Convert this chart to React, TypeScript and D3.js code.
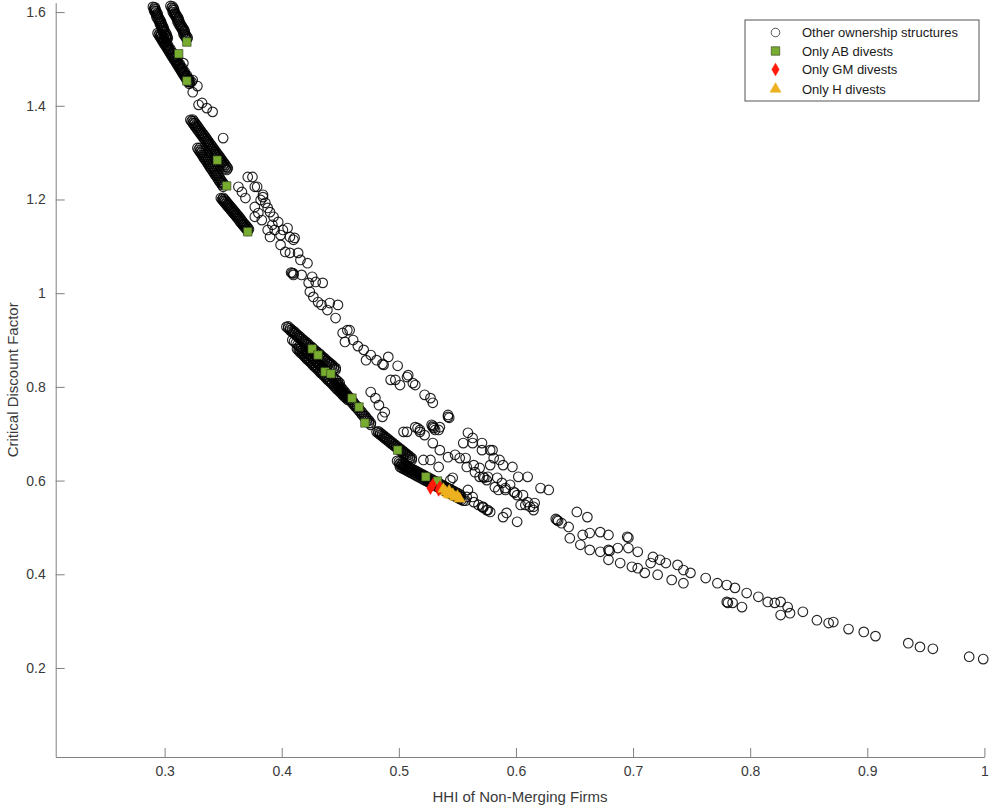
import { useEffect, useRef } from "react";
import * as d3 from "d3";

// [HHI of non-merging firms, critical discount factor]
const topStreaks: [number, number][] = [
  [0.290, 1.611], [0.291, 1.607], [0.291, 1.603], [0.292, 1.599], [0.293, 1.595], [0.293, 1.590],
  [0.294, 1.586], [0.295, 1.582], [0.296, 1.578], [0.296, 1.574], [0.297, 1.570], [0.298, 1.566],
  [0.298, 1.562], [0.299, 1.558], [0.300, 1.553], [0.301, 1.549], [0.301, 1.545], [0.302, 1.541],
  [0.2917, 1.610], [0.2922, 1.606], [0.2927, 1.602], [0.2937, 1.598], [0.2942, 1.594], [0.2947, 1.589],
  [0.2957, 1.585], [0.2967, 1.581], [0.2972, 1.577], [0.2977, 1.573], [0.2987, 1.569], [0.2992, 1.565],
  [0.2997, 1.561], [0.3007, 1.557], [0.3017, 1.552], [0.3022, 1.548], [0.3027, 1.544],
  [0.305, 1.613], [0.306, 1.609], [0.307, 1.605], [0.307, 1.600], [0.308, 1.596], [0.309, 1.592],
  [0.310, 1.588], [0.311, 1.584], [0.311, 1.580], [0.312, 1.575], [0.313, 1.571], [0.314, 1.567],
  [0.315, 1.563], [0.316, 1.559], [0.316, 1.554], [0.317, 1.550], [0.318, 1.546], [0.319, 1.542],
  [0.3067, 1.612], [0.3077, 1.608], [0.3082, 1.604], [0.3087, 1.599], [0.3097, 1.595], [0.3107, 1.591],
  [0.3117, 1.587], [0.3122, 1.583], [0.3127, 1.579], [0.3137, 1.574], [0.3147, 1.570], [0.3157, 1.566],
  [0.3167, 1.562], [0.3172, 1.558], [0.3177, 1.553], [0.3187, 1.549], [0.3197, 1.545],
  [0.294, 1.555], [0.295, 1.551], [0.296, 1.547], [0.297, 1.543], [0.298, 1.539], [0.299, 1.535],
  [0.300, 1.531], [0.301, 1.527], [0.302, 1.523], [0.303, 1.519], [0.304, 1.515], [0.305, 1.511],
  [0.306, 1.507], [0.307, 1.503], [0.308, 1.499], [0.309, 1.495], [0.310, 1.491], [0.311, 1.487],
  [0.312, 1.483], [0.313, 1.479], [0.314, 1.475], [0.315, 1.471], [0.316, 1.467], [0.317, 1.463],
  [0.318, 1.459], [0.319, 1.455], [0.320, 1.451], [0.321, 1.447],
  [0.2957, 1.554], [0.2967, 1.550], [0.2977, 1.546], [0.2987, 1.542], [0.2997, 1.538], [0.3007, 1.534],
  [0.3017, 1.530], [0.3027, 1.526], [0.3037, 1.522], [0.3047, 1.518], [0.3057, 1.514], [0.3067, 1.510],
  [0.3077, 1.506], [0.3087, 1.502], [0.3097, 1.498], [0.3107, 1.494], [0.3117, 1.490], [0.3127, 1.486],
  [0.3137, 1.482], [0.3147, 1.478], [0.3157, 1.474], [0.3167, 1.470], [0.3177, 1.466], [0.3187, 1.462],
  [0.3197, 1.458], [0.3207, 1.454], [0.3217, 1.450],
  [0.297, 1.553], [0.299, 1.545], [0.301, 1.537], [0.303, 1.529], [0.305, 1.521], [0.307, 1.513],
  [0.309, 1.505], [0.311, 1.497], [0.313, 1.489], [0.315, 1.481], [0.317, 1.473], [0.319, 1.465],
  [0.321, 1.457], [0.323, 1.451],
  [0.316, 1.491], [0.324, 1.455], [0.328, 1.442], [0.324, 1.429], [0.332, 1.406], [0.336, 1.395],
  [0.341, 1.387], [0.329, 1.402],
];

const secondStreaks: [number, number][] = [
  [0.322, 1.370], [0.323, 1.367], [0.324, 1.363], [0.325, 1.360], [0.326, 1.356], [0.327, 1.353],
  [0.328, 1.349], [0.329, 1.346], [0.330, 1.342], [0.331, 1.339], [0.332, 1.336], [0.333, 1.332],
  [0.334, 1.329], [0.335, 1.325], [0.336, 1.322], [0.337, 1.318], [0.338, 1.315], [0.339, 1.311],
  [0.340, 1.308], [0.341, 1.304], [0.342, 1.301], [0.343, 1.297], [0.344, 1.294], [0.345, 1.291],
  [0.346, 1.287], [0.347, 1.284], [0.348, 1.280], [0.349, 1.277], [0.350, 1.273], [0.351, 1.270],
  [0.352, 1.266], [0.353, 1.263],
  [0.324, 1.3705], [0.325, 1.367], [0.326, 1.3635], [0.327, 1.360], [0.328, 1.3565], [0.329, 1.353],
  [0.330, 1.3495], [0.331, 1.346], [0.332, 1.3425], [0.333, 1.3395], [0.334, 1.336], [0.335, 1.3325],
  [0.336, 1.329], [0.337, 1.3255], [0.338, 1.322], [0.339, 1.3185], [0.340, 1.315], [0.341, 1.3115],
  [0.342, 1.308], [0.343, 1.3045], [0.344, 1.301], [0.345, 1.2975], [0.346, 1.2945], [0.347, 1.291],
  [0.348, 1.2875], [0.349, 1.284], [0.350, 1.2805], [0.351, 1.277], [0.352, 1.2735], [0.353, 1.270],
  [0.354, 1.2665],
  [0.328, 1.310], [0.329, 1.306], [0.330, 1.302], [0.331, 1.299], [0.332, 1.295], [0.333, 1.291],
  [0.334, 1.287], [0.335, 1.284], [0.336, 1.280], [0.337, 1.276], [0.338, 1.272], [0.339, 1.268],
  [0.340, 1.265], [0.341, 1.261], [0.342, 1.257], [0.343, 1.253], [0.344, 1.250], [0.345, 1.246],
  [0.346, 1.242], [0.347, 1.238], [0.348, 1.235], [0.349, 1.231], [0.350, 1.227],
  [0.330, 1.310], [0.331, 1.306], [0.332, 1.3025], [0.333, 1.299], [0.334, 1.295], [0.335, 1.291],
  [0.336, 1.2875], [0.337, 1.284], [0.338, 1.280], [0.339, 1.276], [0.340, 1.272], [0.341, 1.2685],
  [0.342, 1.265], [0.343, 1.261], [0.344, 1.257], [0.345, 1.2535], [0.346, 1.250], [0.347, 1.246],
  [0.348, 1.242], [0.349, 1.2385], [0.350, 1.235], [0.351, 1.231],
  [0.348, 1.203], [0.349, 1.200], [0.350, 1.197], [0.351, 1.194], [0.352, 1.191], [0.353, 1.188],
  [0.354, 1.185], [0.355, 1.182], [0.356, 1.179], [0.357, 1.176], [0.358, 1.173], [0.359, 1.170],
  [0.360, 1.167], [0.361, 1.164], [0.362, 1.161], [0.363, 1.158], [0.364, 1.154], [0.365, 1.151],
  [0.366, 1.148], [0.367, 1.145], [0.368, 1.142], [0.369, 1.139], [0.370, 1.136], [0.371, 1.133],
  [0.350, 1.2035], [0.351, 1.2005], [0.352, 1.1975], [0.353, 1.1945], [0.354, 1.1915], [0.355, 1.1885],
  [0.356, 1.1855], [0.357, 1.1825], [0.358, 1.1795], [0.359, 1.1765], [0.360, 1.1735], [0.361, 1.1705],
  [0.362, 1.1675], [0.363, 1.1645], [0.364, 1.1615], [0.365, 1.158], [0.366, 1.1545], [0.367, 1.1515],
  [0.368, 1.1485], [0.369, 1.1455], [0.370, 1.1425], [0.371, 1.1395], [0.372, 1.1365],
];

const secondCloud: [number, number][] = [
  [0.350, 1.331], [0.371, 1.248], [0.379, 1.227], [0.363, 1.227], [0.366, 1.216], [0.369, 1.203],
  [0.384, 1.210], [0.386, 1.193], [0.377, 1.184], [0.380, 1.171], [0.390, 1.173], [0.383, 1.156],
  [0.393, 1.163], [0.397, 1.152], [0.392, 1.146], [0.405, 1.139], [0.390, 1.120], [0.399, 1.124],
  [0.407, 1.120], [0.411, 1.118], [0.375, 1.248], [0.377, 1.227], [0.384, 1.205], [0.382, 1.199],
  [0.388, 1.182], [0.377, 1.163], [0.388, 1.135], [0.394, 1.135], [0.401, 1.135], [0.410, 1.114],
  [0.399, 1.103], [0.403, 1.088], [0.407, 1.086], [0.414, 1.086], [0.416, 1.071], [0.422, 1.064],
  [0.408, 1.044], [0.409, 1.043], [0.410, 1.042], [0.410, 1.039], [0.417, 1.039], [0.426, 1.035],
  [0.423, 1.022], [0.429, 1.024], [0.435, 1.022], [0.424, 1.003], [0.427, 0.992], [0.431, 0.981],
  [0.434, 0.975], [0.441, 0.979], [0.448, 0.975], [0.439, 0.964], [0.446, 0.947], [0.456, 0.921],
];

const thirdStreaks: [number, number][] = [
  [0.404, 0.928], [0.4055, 0.925], [0.407, 0.921], [0.4085, 0.918], [0.410, 0.915], [0.4115, 0.912],
  [0.413, 0.908], [0.4145, 0.905], [0.416, 0.902], [0.4175, 0.898], [0.419, 0.895], [0.4205, 0.892],
  [0.422, 0.889], [0.4235, 0.885], [0.425, 0.882], [0.4265, 0.879], [0.428, 0.875], [0.4295, 0.872],
  [0.431, 0.869], [0.4325, 0.866], [0.434, 0.862], [0.4355, 0.859], [0.437, 0.856], [0.4385, 0.852],
  [0.440, 0.849], [0.4415, 0.846], [0.443, 0.843], [0.4445, 0.839], [0.446, 0.836],
  [0.4056, 0.929], [0.4071, 0.925], [0.4086, 0.922], [0.4101, 0.919], [0.4116, 0.916], [0.4131, 0.912],
  [0.4146, 0.909], [0.4161, 0.906], [0.4176, 0.902], [0.4191, 0.899], [0.4206, 0.896], [0.4221, 0.893],
  [0.4236, 0.889], [0.4251, 0.886], [0.4266, 0.883], [0.4281, 0.879], [0.4296, 0.876], [0.4311, 0.873],
  [0.4326, 0.870], [0.4341, 0.866], [0.4356, 0.863], [0.4371, 0.860], [0.4386, 0.856], [0.4401, 0.853],
  [0.4416, 0.850], [0.4431, 0.847], [0.4446, 0.843], [0.4461, 0.840],
  [0.409, 0.900], [0.4105, 0.897], [0.412, 0.893], [0.4135, 0.890], [0.415, 0.886], [0.4165, 0.883],
  [0.418, 0.880], [0.4195, 0.876], [0.421, 0.873], [0.4225, 0.869], [0.424, 0.866], [0.4255, 0.863],
  [0.427, 0.859], [0.4285, 0.856], [0.430, 0.852], [0.4315, 0.849], [0.433, 0.846], [0.4345, 0.842],
  [0.436, 0.839], [0.4375, 0.835], [0.439, 0.832], [0.4405, 0.829], [0.442, 0.825], [0.4435, 0.822],
  [0.445, 0.818], [0.4465, 0.815], [0.448, 0.812], [0.4495, 0.808],
  [0.413, 0.881], [0.4145, 0.877], [0.416, 0.873], [0.4175, 0.870], [0.419, 0.866], [0.4205, 0.862],
  [0.422, 0.858], [0.4235, 0.855], [0.425, 0.851], [0.4265, 0.847], [0.428, 0.843], [0.4295, 0.840],
  [0.431, 0.836], [0.4325, 0.832], [0.434, 0.828], [0.4355, 0.825], [0.437, 0.821], [0.4385, 0.817],
  [0.440, 0.813], [0.4415, 0.810], [0.443, 0.806], [0.4445, 0.802], [0.446, 0.798], [0.4475, 0.794],
  [0.449, 0.791], [0.4505, 0.787], [0.452, 0.783], [0.4535, 0.779], [0.455, 0.776], [0.4565, 0.772],
  [0.4146, 0.881], [0.4161, 0.877], [0.4176, 0.874], [0.4191, 0.870], [0.4206, 0.866], [0.4221, 0.862],
  [0.4236, 0.859], [0.4251, 0.855], [0.4266, 0.851], [0.4281, 0.847], [0.4296, 0.844], [0.4311, 0.840],
  [0.4326, 0.836], [0.4341, 0.832], [0.4356, 0.829], [0.4371, 0.825], [0.4386, 0.821], [0.4401, 0.817],
  [0.4416, 0.814], [0.4431, 0.810], [0.4446, 0.806], [0.4461, 0.802], [0.4476, 0.798], [0.4491, 0.795],
  [0.4506, 0.791], [0.4521, 0.787], [0.4536, 0.783], [0.4551, 0.780], [0.4566, 0.776],
  [0.446, 0.808], [0.4475, 0.804], [0.449, 0.799], [0.4505, 0.795], [0.452, 0.790], [0.4535, 0.786],
  [0.455, 0.781], [0.4565, 0.777], [0.458, 0.772], [0.4595, 0.768], [0.461, 0.763], [0.4625, 0.759],
  [0.464, 0.755], [0.4655, 0.750], [0.467, 0.746], [0.4685, 0.741], [0.470, 0.737], [0.4715, 0.732],
  [0.473, 0.728], [0.4745, 0.723], [0.476, 0.719],
  [0.4476, 0.808], [0.4491, 0.804], [0.4506, 0.799], [0.4521, 0.795], [0.4536, 0.790], [0.4551, 0.786],
  [0.4566, 0.781], [0.4581, 0.777], [0.4596, 0.772], [0.4611, 0.768], [0.4626, 0.763], [0.4641, 0.759],
  [0.4656, 0.755], [0.4671, 0.750], [0.4686, 0.746], [0.4701, 0.741], [0.4716, 0.737], [0.4731, 0.732],
  [0.4746, 0.728], [0.4761, 0.723],
];

const thirdCloud: [number, number][] = [
  [0.452, 0.915], [0.458, 0.921], [0.454, 0.896], [0.461, 0.900], [0.465, 0.887], [0.470, 0.879],
  [0.476, 0.868], [0.481, 0.857], [0.472, 0.857], [0.491, 0.864], [0.487, 0.847], [0.486, 0.849],
  [0.499, 0.845], [0.493, 0.815], [0.497, 0.815], [0.501, 0.804], [0.507, 0.821], [0.508, 0.825],
  [0.512, 0.808], [0.514, 0.804], [0.522, 0.783], [0.527, 0.776], [0.529, 0.766], [0.488, 0.746],
  [0.486, 0.736], [0.542, 0.736], [0.543, 0.734], [0.542, 0.740], [0.507, 0.704], [0.516, 0.712],
  [0.518, 0.704], [0.522, 0.697], [0.529, 0.714], [0.530, 0.712], [0.531, 0.708], [0.535, 0.714],
  [0.559, 0.702], [0.563, 0.691], [0.476, 0.789], [0.480, 0.776], [0.483, 0.761],
];

const fourthStreaks: [number, number][] = [
  [0.481, 0.704], [0.4825, 0.701], [0.484, 0.698], [0.4855, 0.695], [0.487, 0.692], [0.4885, 0.689],
  [0.490, 0.686], [0.4915, 0.683], [0.493, 0.680], [0.4945, 0.677], [0.496, 0.674], [0.4975, 0.671],
  [0.499, 0.668], [0.5005, 0.665], [0.502, 0.662], [0.5035, 0.659], [0.505, 0.656], [0.5065, 0.653],
  [0.508, 0.650], [0.5095, 0.647], [0.511, 0.644],
  [0.4826, 0.705], [0.4841, 0.702], [0.4856, 0.699], [0.4871, 0.696], [0.4886, 0.693], [0.4901, 0.690],
  [0.4916, 0.687], [0.4931, 0.684], [0.4946, 0.681], [0.4961, 0.678], [0.4976, 0.675], [0.4991, 0.672],
  [0.5006, 0.669], [0.5021, 0.666], [0.5036, 0.663], [0.5051, 0.660], [0.5066, 0.657], [0.5081, 0.654],
  [0.5096, 0.651], [0.5111, 0.648],
  [0.4985, 0.642], [0.500, 0.640], [0.5015, 0.638], [0.503, 0.636], [0.5045, 0.634], [0.506, 0.632],
  [0.5075, 0.630], [0.509, 0.628], [0.5105, 0.626], [0.512, 0.624], [0.5135, 0.622], [0.515, 0.620],
  [0.5165, 0.618], [0.518, 0.616], [0.5195, 0.614], [0.521, 0.612], [0.5225, 0.610], [0.524, 0.608],
  [0.5255, 0.606], [0.527, 0.604], [0.5285, 0.602], [0.530, 0.600], [0.5315, 0.598], [0.533, 0.596],
  [0.5345, 0.594], [0.536, 0.592], [0.5375, 0.590], [0.539, 0.588], [0.5405, 0.586], [0.542, 0.584],
  [0.5435, 0.582], [0.545, 0.580], [0.5465, 0.578], [0.548, 0.576], [0.5495, 0.574], [0.551, 0.572],
  [0.5525, 0.570],
  [0.5005, 0.635], [0.502, 0.633], [0.5035, 0.631], [0.505, 0.629], [0.5065, 0.627], [0.508, 0.625],
  [0.5095, 0.623], [0.511, 0.621], [0.5125, 0.619], [0.514, 0.617], [0.5155, 0.615], [0.517, 0.613],
  [0.5185, 0.611], [0.520, 0.609], [0.5215, 0.607], [0.523, 0.605], [0.5245, 0.603], [0.526, 0.601],
  [0.5275, 0.599], [0.529, 0.597], [0.5305, 0.595], [0.532, 0.593], [0.5335, 0.591], [0.535, 0.589],
  [0.5365, 0.587], [0.538, 0.585], [0.5395, 0.583], [0.541, 0.581], [0.5425, 0.579], [0.544, 0.577],
  [0.5455, 0.575], [0.547, 0.573], [0.5485, 0.571], [0.550, 0.569], [0.5515, 0.567], [0.553, 0.565],
  [0.501, 0.629], [0.5025, 0.627], [0.504, 0.625], [0.5055, 0.623], [0.507, 0.621], [0.5085, 0.619],
  [0.510, 0.617], [0.5115, 0.615], [0.513, 0.613], [0.5145, 0.611], [0.516, 0.609], [0.5175, 0.607],
  [0.519, 0.605], [0.5205, 0.603], [0.522, 0.601], [0.5235, 0.599], [0.525, 0.597], [0.5265, 0.595],
  [0.528, 0.593], [0.5295, 0.591], [0.531, 0.589], [0.5325, 0.587], [0.534, 0.585], [0.5355, 0.583],
  [0.537, 0.581], [0.5385, 0.579], [0.540, 0.577], [0.5415, 0.575], [0.543, 0.573], [0.5445, 0.571],
  [0.546, 0.569], [0.5475, 0.567], [0.549, 0.565], [0.5505, 0.563], [0.552, 0.561], [0.5535, 0.559],
  [0.555, 0.557],
  [0.557, 0.557], [0.563, 0.565], [0.564, 0.554], [0.568, 0.548], [0.572, 0.544], [0.576, 0.537],
  [0.558, 0.565], [0.559, 0.580],
];

const fourthCloud: [number, number][] = [
  [0.504, 0.704], [0.514, 0.714], [0.518, 0.708], [0.528, 0.719], [0.529, 0.717], [0.534, 0.708],
  [0.555, 0.680], [0.563, 0.680], [0.571, 0.680], [0.578, 0.665], [0.529, 0.680], [0.535, 0.665],
  [0.542, 0.650], [0.548, 0.655], [0.552, 0.648], [0.557, 0.648], [0.558, 0.629], [0.564, 0.633],
  [0.569, 0.627], [0.578, 0.633], [0.565, 0.618], [0.569, 0.608], [0.576, 0.608], [0.586, 0.644],
  [0.589, 0.633], [0.584, 0.606], [0.588, 0.595], [0.595, 0.591], [0.591, 0.584], [0.602, 0.608],
  [0.610, 0.608], [0.599, 0.574], [0.606, 0.569], [0.610, 0.554], [0.615, 0.544], [0.621, 0.584],
  [0.628, 0.580], [0.589, 0.522], [0.601, 0.512], [0.521, 0.644], [0.527, 0.644], [0.534, 0.629],
  [0.544, 0.601], [0.546, 0.606], [0.571, 0.665], [0.580, 0.665], [0.581, 0.648], [0.597, 0.629],
  [0.572, 0.608], [0.573, 0.606], [0.575, 0.601], [0.582, 0.586], [0.585, 0.580], [0.591, 0.580],
  [0.598, 0.576], [0.601, 0.569], [0.604, 0.548], [0.608, 0.548], [0.612, 0.544], [0.616, 0.552],
  [0.615, 0.537], [0.571, 0.544], [0.572, 0.542], [0.575, 0.537], [0.578, 0.533], [0.592, 0.531],
];

const tailCloud: [number, number][] = [
  [0.635, 0.516], [0.634, 0.518], [0.636, 0.514], [0.639, 0.509], [0.645, 0.501], [0.652, 0.533],
  [0.661, 0.522], [0.646, 0.477], [0.657, 0.484], [0.663, 0.488], [0.672, 0.490], [0.679, 0.484],
  [0.695, 0.480], [0.696, 0.478], [0.655, 0.463], [0.663, 0.452], [0.672, 0.448], [0.679, 0.452],
  [0.680, 0.450], [0.687, 0.456], [0.696, 0.456], [0.704, 0.448], [0.679, 0.431], [0.689, 0.424],
  [0.699, 0.416], [0.704, 0.413], [0.710, 0.403], [0.715, 0.424], [0.717, 0.437], [0.723, 0.431],
  [0.728, 0.424], [0.721, 0.399], [0.738, 0.420], [0.743, 0.409], [0.749, 0.403], [0.733, 0.388],
  [0.743, 0.381], [0.762, 0.392], [0.772, 0.381], [0.780, 0.377], [0.787, 0.371], [0.797, 0.360],
  [0.807, 0.352], [0.780, 0.341], [0.781, 0.339], [0.785, 0.339], [0.793, 0.330], [0.815, 0.341],
  [0.821, 0.339], [0.826, 0.341], [0.832, 0.330], [0.845, 0.320], [0.826, 0.313], [0.834, 0.317],
  [0.857, 0.302], [0.867, 0.296], [0.871, 0.298], [0.884, 0.283], [0.897, 0.277], [0.907, 0.268],
  [0.935, 0.253], [0.945, 0.245], [0.956, 0.241], [0.987, 0.224], [0.999, 0.219],
];

const onlyABDivests: [number, number][] = [
  [0.319, 1.536], [0.312, 1.511], [0.319, 1.453], [0.345, 1.284], [0.353, 1.229], [0.371, 1.131],
  [0.426, 0.881], [0.431, 0.868], [0.437, 0.832], [0.442, 0.828], [0.460, 0.776], [0.466, 0.757],
  [0.471, 0.723], [0.499, 0.665], [0.523, 0.608], [0.533, 0.599],
];

const onlyGMDivests: [number, number][] = [
  [0.527, 0.584], [0.529, 0.591], [0.534, 0.580], [0.535, 0.586],
];

const onlyHDivests: [number, number][] = [
  [0.538, 0.582], [0.540, 0.576], [0.543, 0.578], [0.544, 0.569], [0.546, 0.571], [0.548, 0.565],
  [0.550, 0.567], [0.552, 0.561], [0.542, 0.571],
];

const xTicks = [0.3, 0.4, 0.5, 0.6, 0.7, 0.8, 0.9, 1];
const yTicks = [0.2, 0.4, 0.6, 0.8, 1, 1.2, 1.4, 1.6];
const legendLabels = ["Other ownership structures", "Only AB divests", "Only GM divests", "Only H divests"];

const otherStructures = [
  ...topStreaks, ...secondStreaks, ...secondCloud, ...thirdStreaks, ...thirdCloud,
  ...fourthStreaks, ...fourthCloud, ...tailCloud,
];

const W = 992;
const H = 808;
const FONT = "'Liberation Sans', Arial, Helvetica, sans-serif";
const AB_GREEN = "#77AC30";
const GM_RED = "#FF1A0A";
const H_ORANGE = "#EDB120";

const App = () => {
  const svgRef = useRef<SVGSVGElement>(null);

  useEffect(() => {
    const svg = d3.select(svgRef.current);
    svg.selectAll("*").remove();

    const left = 55.7;
    const right = 984.4;
    const top = 2.7;
    const bottom = 757;

    const x = d3.scaleLinear().domain([0.207, 1]).range([left, right]);
    const y = d3.scaleLinear().domain([0.01, 1.62]).range([bottom, top]);
    const fmt = (d: d3.NumberValue) => String(+(+d).toFixed(1));

    // Axes (MATLAB style: inward ticks, no box)
    const gx = svg
      .append("g")
      .attr("transform", `translate(0, ${bottom})`)
      .call(d3.axisBottom(x).tickValues(xTicks).tickSizeInner(-9).tickSizeOuter(0).tickPadding(9).tickFormat(fmt));
    const gy = svg
      .append("g")
      .attr("transform", `translate(${left}, 0)`)
      .call(d3.axisLeft(y).tickValues(yTicks).tickSizeInner(-9).tickSizeOuter(0).tickPadding(10).tickFormat(fmt));
    [gx, gy].forEach((g) => {
      g.select(".domain").attr("stroke", "#808080");
      g.selectAll(".tick line").attr("stroke", "#808080");
      g.selectAll(".tick text")
        .attr("fill", "#3a3a3a")
        .style("font-family", FONT)
        .style("font-size", "14px");
    });

    // Axis labels
    svg
      .append("text")
      .attr("x", (left + right) / 2)
      .attr("y", 802)
      .attr("text-anchor", "middle")
      .attr("fill", "#3a3a3a")
      .style("font-family", FONT)
      .style("font-size", "15px")
      .text("HHI of Non-Merging Firms");

    svg
      .append("text")
      .attr("transform", "rotate(-90)")
      .attr("x", -(top + bottom) / 2)
      .attr("y", 18)
      .attr("text-anchor", "middle")
      .attr("fill", "#3a3a3a")
      .style("font-family", FONT)
      .style("font-size", "15px")
      .text("Critical Discount Factor");

    // Other ownership structures
    svg
      .append("g")
      .selectAll("circle")
      .data(otherStructures)
      .enter()
      .append("circle")
      .attr("cx", (d) => x(d[0]))
      .attr("cy", (d) => y(d[1]))
      .attr("r", 4.8)
      .attr("fill", "none")
      .attr("stroke", "#000")
      .attr("stroke-opacity", 0.85)
      .attr("stroke-width", 1.15);

    const square = d3.symbol().type(d3.symbolSquare).size(72);
    const diamond = d3.symbol().type(d3.symbolDiamond).size(46);
    const triangle = d3.symbol().type(d3.symbolTriangle).size(52);

    svg
      .append("g")
      .selectAll("path")
      .data(onlyABDivests)
      .enter()
      .append("path")
      .attr("d", square)
      .attr("transform", (d) => `translate(${x(d[0])}, ${y(d[1])})`)
      .attr("fill", AB_GREEN)
      .attr("stroke", "#2f3a20")
      .attr("stroke-width", 0.6);

    svg
      .append("g")
      .selectAll("path")
      .data(onlyGMDivests)
      .enter()
      .append("path")
      .attr("d", diamond)
      .attr("transform", (d) => `translate(${x(d[0])}, ${y(d[1])})`)
      .attr("fill", GM_RED)
      .attr("stroke", GM_RED)
      .attr("stroke-width", 0.6);

    svg
      .append("g")
      .selectAll("path")
      .data(onlyHDivests)
      .enter()
      .append("path")
      .attr("d", triangle)
      .attr("transform", (d) => `translate(${x(d[0])}, ${y(d[1])})`)
      .attr("fill", H_ORANGE)
      .attr("stroke", H_ORANGE)
      .attr("stroke-width", 0.6);

    // Legend
    const legend = svg.append("g");
    legend
      .append("rect")
      .attr("x", 745)
      .attr("y", 20)
      .attr("width", 234)
      .attr("height", 81)
      .attr("fill", "#fff")
      .attr("stroke", "#555")
      .attr("stroke-width", 1);

    const rowY = [32.5, 51, 69.5, 89];
    const mx = 775.5;
    legendLabels.forEach((label, i) => {
      if (i === 0) {
        legend.append("circle").attr("cx", mx).attr("cy", rowY[i]).attr("r", 4.3)
          .attr("fill", "none").attr("stroke", "#444").attr("stroke-width", 0.9);
      } else if (i === 1) {
        legend.append("path").attr("d", square).attr("transform", `translate(${mx}, ${rowY[i]})`)
          .attr("fill", AB_GREEN).attr("stroke", "#2f3a20").attr("stroke-width", 0.6);
      } else if (i === 2) {
        legend.append("path").attr("d", diamond).attr("transform", `translate(${mx}, ${rowY[i]})`)
          .attr("fill", GM_RED).attr("stroke", GM_RED).attr("stroke-width", 0.6);
      } else {
        legend.append("path").attr("d", triangle).attr("transform", `translate(${mx}, ${rowY[i]})`)
          .attr("fill", H_ORANGE).attr("stroke", H_ORANGE).attr("stroke-width", 0.6);
      }
      legend
        .append("text")
        .attr("x", 802)
        .attr("y", rowY[i])
        .attr("dy", "0.35em")
        .attr("fill", "#1a1a1a")
        .style("font-family", FONT)
        .style("font-size", "13px")
        .text(label);
    });
  }, []);

  return (
    <svg
      ref={svgRef}
      width={W}
      height={H}
      viewBox={`0 0 ${W} ${H}`}
      style={{ position: "absolute", left: 0, top: 0, background: "#fff" }}
    ></svg>
  );
};

export default App;
